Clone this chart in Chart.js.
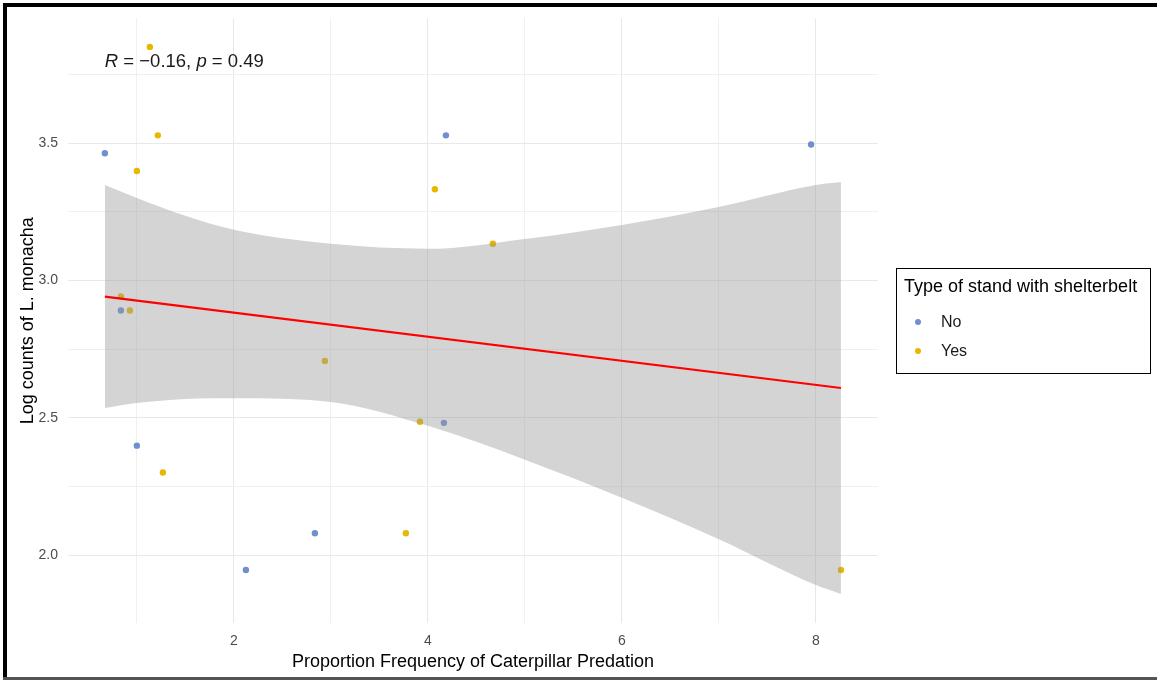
<!DOCTYPE html>
<html>
<head>
<meta charset="utf-8">
<script src="https://cdn.jsdelivr.net/npm/chart.js@4/dist/chart.umd.min.js"></script>
<style>
  html, body { margin: 0; padding: 0; background: #ffffff; }
  #wrap { position: relative; width: 1157px; height: 680px; }
</style>
</head>
<body>
<div id="wrap"><canvas id="c" width="1157" height="680"></canvas></div>
<script>
// Stands without a shelterbelt
const noX = [0.67, 0.835, 1.0, 2.124, 2.835, 4.186, 4.165, 7.95];
const noY = [3.464, 2.891, 2.399, 1.946, 2.080, 3.529, 2.482, 3.496];

// Stands with a shelterbelt
const yesX = [1.134, 1.216, 1.0, 0.835, 0.928, 1.268, 2.938, 3.918, 3.773, 4.072, 4.67, 8.258];
const yesY = [3.851, 3.529, 3.399, 2.942, 2.891, 2.301, 2.707, 2.486, 2.080, 3.333, 3.134, 1.946];

// Linear fit and its 95% confidence band
const fitX = [0.67, 8.258];
const fitY = [2.942, 2.609];
const bandX = [0.67, 1.0, 1.5, 2.0, 3.0, 4.0, 5.0, 6.0, 7.0, 8.0, 8.258];
const bandUpper = [3.348, 3.301, 3.236, 3.185, 3.134, 3.116, 3.152, 3.203, 3.268, 3.348, 3.359];
const bandLower = [2.536, 2.554, 2.569, 2.572, 2.558, 2.471, 2.348, 2.209, 2.058, 1.891, 1.859];

// Axis ranges and labelled ticks
const xRange = [0.29, 8.64];
const yRange = [1.753, 3.955];
const xLabelled = [2, 4, 6, 8];
const yLabelled = [2.0, 2.5, 3.0, 3.5];

const corrText = { r: '−0.16', p: '0.49' };
const legendTitle = 'Type of stand with shelterbelt';
const groupNames = ['No', 'Yes'];
const groupColors = ['#6f8fcf', '#e7b800'];

const pts = (xs, ys) => xs.map((x, i) => ({ x: x, y: ys[i] }));
const FONT = "'Liberation Sans', Arial, sans-serif";

const isLabelled = (list, v) => list.some(t => Math.abs(t - v) < 1e-6);

// Stat label, legend box and outer frame
const decor = {
  id: 'decor',
  afterDraw(chart) {
    const ctx = chart.ctx;
    const xs = chart.scales.x;
    ctx.save();

    // R / p annotation at the top-left of the data
    let tx = xs.getPixelForValue(Math.min(...noX, ...yesX));
    const ty = 62;
    ctx.fillStyle = '#1a1a1a';
    ctx.textBaseline = 'middle';
    ctx.textAlign = 'left';
    const parts = [
      ['italic', 'R'], ['normal', ' = ' + corrText.r + ', '],
      ['italic', 'p'], ['normal', ' = ' + corrText.p]
    ];
    parts.forEach(([style, s]) => {
      ctx.font = style + ' 18.5px ' + FONT;
      ctx.fillText(s, tx, ty);
      tx += ctx.measureText(s).width;
    });

    // Legend
    const bx = 896, by = 268, bw = 254, bh = 105;
    ctx.fillStyle = '#ffffff';
    ctx.fillRect(bx, by, bw, bh);
    ctx.strokeStyle = '#000000';
    ctx.lineWidth = 1;
    ctx.strokeRect(bx + 0.5, by + 0.5, bw, bh);
    ctx.fillStyle = '#000000';
    ctx.font = '18px ' + FONT;
    ctx.fillText(legendTitle, 904, 287);
    groupNames.forEach((name, i) => {
      const cy = 322 + i * 29;
      ctx.beginPath();
      ctx.arc(918, cy, 3, 0, Math.PI * 2);
      ctx.fillStyle = groupColors[i];
      ctx.fill();
      ctx.fillStyle = '#1a1a1a';
      ctx.font = '16px ' + FONT;
      ctx.fillText(name, 941, cy + 1);
    });

    // Outer frame
    ctx.fillStyle = '#000000';
    ctx.fillRect(3, 3, 4, 677);
    ctx.fillRect(3, 3, 1154, 4);
    ctx.fillStyle = '#555555';
    ctx.fillRect(3, 677, 1154, 3);
    ctx.restore();
  }
};

new Chart(document.getElementById('c'), {
  type: 'scatter',
  data: {
    datasets: [
      {
        type: 'line', label: 'fit', data: pts(fitX, fitY),
        borderColor: '#ff0000', borderWidth: 2.2, pointRadius: 0, fill: false
      },
      {
        type: 'line', label: 'upper', data: pts(bandX, bandUpper),
        borderWidth: 0, borderColor: 'rgba(0,0,0,0)', pointRadius: 0,
        cubicInterpolationMode: 'monotone',
        fill: '+1', backgroundColor: 'rgba(153,153,153,0.42)'
      },
      {
        type: 'line', label: 'lower', data: pts(bandX, bandLower),
        borderWidth: 0, borderColor: 'rgba(0,0,0,0)', pointRadius: 0,
        cubicInterpolationMode: 'monotone', fill: false
      },
      {
        label: groupNames[1], data: pts(yesX, yesY),
        backgroundColor: groupColors[1], borderWidth: 0, pointRadius: 3.2
      },
      {
        label: groupNames[0], data: pts(noX, noY),
        backgroundColor: groupColors[0], borderWidth: 0, pointRadius: 3.2
      }
    ]
  },
  options: {
    responsive: false,
    animation: false,
    events: [],
    layout: { padding: { left: 0, right: 279, top: 17, bottom: 0 } },
    plugins: { legend: { display: false }, tooltip: { enabled: false } },
    scales: {
      x: {
        type: 'linear', min: xRange[0], max: xRange[1],
        afterFit: s => { s.height = 57; },
        border: { display: false },
        grid: {
          drawTicks: false,
          color: c => isLabelled(xLabelled, c.tick.value) ? '#e8e8e8' : '#f0f0f0',
          lineWidth: 1
        },
        ticks: {
          stepSize: 1, includeBounds: false, autoSkip: false, maxRotation: 0,
          padding: 10, color: '#4d4d4d', font: { family: FONT, size: 14 },
          callback: v => isLabelled(xLabelled, v) ? String(v) : ''
        },
        title: {
          display: true, text: 'Proportion Frequency of Caterpillar Predation',
          color: '#000000', font: { family: FONT, size: 18 },
          padding: { top: 0, bottom: 7 }
        }
      },
      y: {
        type: 'linear', min: yRange[0], max: yRange[1],
        afterFit: s => { s.width = 68; },
        border: { display: false },
        grid: {
          drawTicks: false,
          color: c => isLabelled(yLabelled, c.tick.value) ? '#e8e8e8' : '#f0f0f0',
          lineWidth: 1
        },
        ticks: {
          stepSize: 0.25, includeBounds: false, autoSkip: false,
          padding: 10, color: '#4d4d4d', font: { family: FONT, size: 14 },
          callback: v => isLabelled(yLabelled, v) ? v.toFixed(1) : ''
        },
        title: {
          display: true, text: 'Log counts of L. monacha',
          color: '#000000', font: { family: FONT, size: 18 },
          padding: { top: 17, bottom: 0 }
        }
      }
    }
  },
  plugins: [decor]
});
</script>
</body>
</html>
